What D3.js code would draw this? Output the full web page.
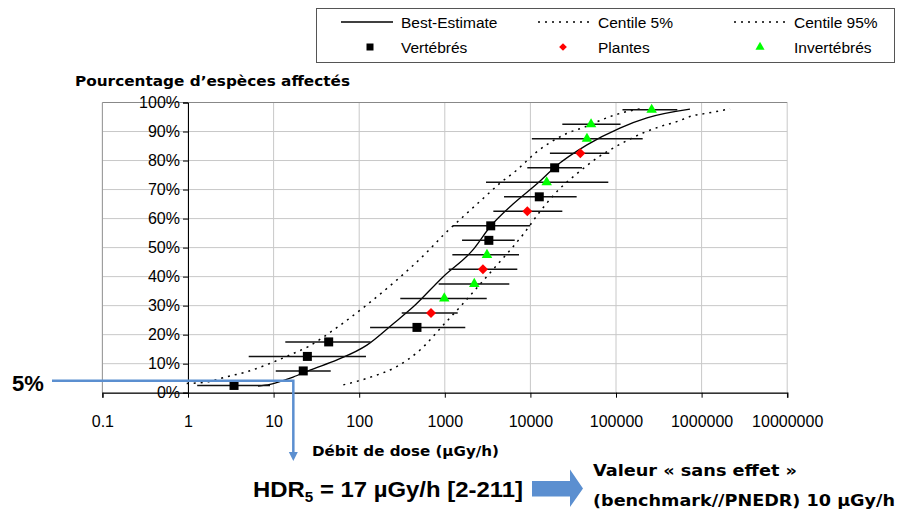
<!DOCTYPE html>
<html>
<head>
<meta charset="utf-8">
<script src="https://cdn.jsdelivr.net/npm/d3@7"></script>
<style>
  body { margin: 0; background: #fff; }
  svg { display: block; }
</style>
</head>
<body>
<div id="chart"></div>
<script>
// dimensions
const width = 901;
const height = 516;

// graduations
const xTicks = [0.1, 1, 10, 100, 1000, 10000, 100000, 1000000, 10000000];
const xTickLabels = ["0.1", "1", "10", "100", "1000", "10000", "100000", "1000000", "10000000"];
const yTicks = [0, 10, 20, 30, 40, 50, 60, 70, 80, 90, 100];

// espèces : [dose, pourcentage, borne basse, borne haute]
const vertebres = [
    [3.45, 2.5, 1.28, 9.08],
    [22.2, 7.5, 10.6, 46.5],
    [24.8, 12.5, 5.12, 120],
    [44, 17.5, 13.7, 136],
    [473, 22.5, 134, 1735],
    [3270, 52.5, 1590, 6560],
    [3440, 57.5, 1237, 9890],
    [12700, 67.5, 4920, 34700],
    [19200, 77.5, 9200, 40100]
];
const plantes = [
    [690, 27.5, 314, 1415],
    [2790, 42.5, 1110, 7030],
    [9200, 62.5, 3690, 23600],
    [38300, 82.5, 16900, 83500]
];
const invertebres = [
    [986, 32.5, 302, 3090],
    [2210, 37.5, 848, 5670],
    [3110, 47.5, 1225, 7360],
    [15500, 72.5, 3030, 81300],
    [45800, 87.5, 10400, 205000],
    [51100, 92.5, 23600, 113000],
    [261000, 97.5, 119000, 520000]
];

// courbes : [dose, pourcentage]
const bestEstimate = [
    [6.58, 2.3], [9.08, 2.9], [12.9, 4.2], [16.9, 5.4], [26.6, 7.8], [55.1, 11.3],
    [123, 16.4], [248, 23.7], [425, 29.5], [952, 39.9], [2130, 49.2], [3370, 57.1],
    [6270, 65.0], [12600, 72.6], [19400, 77.8], [45800, 85.4], [111000, 91.2],
    [230000, 94.7], [731000, 97.7]
];
const centile5 = [
    [0.966, 3.2], [1.58, 3.6], [2.83, 5.5], [4.85, 7.2], [9.08, 10.1], [15.5, 13.0],
    [25.4, 15.9], [54.6, 22.4], [122, 30.2], [274, 38.8], [637, 48.8], [960, 54.3],
    [1644, 60.7], [2818, 67.0], [4413, 72.2], [6918, 76.7], [11320, 82.5],
    [26550, 89.3], [43450, 91.6], [65000, 93.8], [92250, 95.5], [127400, 96.7],
    [190600, 97.8]
];
const centile95 = [
    [65.2, 2.7], [134, 5.3], [274, 9.0], [513, 14.7], [960, 23.3], [1644, 30.8],
    [3086, 40.0], [5780, 49.1], [8260, 54.6], [12940, 62.4], [22180, 70.4],
    [34750, 75.4], [59550, 80.8], [111400, 85.6], [206600, 89.5], [326600, 91.7],
    [512000, 93.4], [800000, 95.5], [1148000, 96.3], [2147000, 97.8]
];

const blue = "#5B8FD0";
const font = "'Liberation Sans', Arial, sans-serif";
const fontTitle = "'DejaVu Sans', Tahoma, sans-serif";

const svg = d3.select("#chart")
    .append("svg")
    .attr("width", width)
    .attr("height", height)
    .style("font-family", font);

// ÉCHELLES
const x = d3.scaleLog().domain([0.1, 10000000]).range([102.4, 787.2]);
const y = d3.scaleLinear().domain([0, 100]).range([392.7, 102.5]);

// grille
const grid = svg.append("g");
grid.selectAll(".gx")
    .data(xTicks)
    .join("line")
    .attr("x1", d => x(d)).attr("x2", d => x(d))
    .attr("y1", y(0)).attr("y2", y(100))
    .attr("stroke", "#c8c8c8")
    .attr("stroke-width", 1);
grid.selectAll(".gy")
    .data(yTicks)
    .join("line")
    .attr("x1", x(0.1)).attr("x2", x(10000000))
    .attr("y1", d => y(d)).attr("y2", d => y(d))
    .attr("stroke", "#c8c8c8")
    .attr("stroke-width", 1);
svg.append("line")
    .attr("x1", x(0.1)).attr("x2", x(10000000))
    .attr("y1", y(100)).attr("y2", y(100))
    .attr("stroke", "#888");
svg.append("line")
    .attr("x1", x(0.1)).attr("x2", x(0.1))
    .attr("y1", y(0)).attr("y2", y(100))
    .attr("stroke", "#999");

// axe X
const xAxis = svg.append("g")
    .attr("transform", `translate(0,${y(0)})`)
    .call(d3.axisBottom(x)
        .tickValues(xTicks)
        .tickFormat((d, i) => xTickLabels[i])
        .tickSizeOuter(0)
        .tickSize(5)
        .tickPadding(18));
xAxis.select(".domain").attr("stroke", "#333").attr("stroke-width", 1.5);
xAxis.selectAll("text").attr("font-size", 16).attr("font-family", font).attr("fill", "#000");

// axe Y (croise en x = 1)
const yAxis = svg.append("g")
    .attr("transform", `translate(${x(1)},0)`)
    .call(d3.axisLeft(y)
        .tickValues(yTicks)
        .tickFormat(d => d + "%")
        .tickSizeOuter(0)
        .tickSize(5)
        .tickPadding(3));
yAxis.select(".domain").attr("stroke", "#000");
yAxis.selectAll("text").attr("font-size", 16).attr("font-family", font).attr("fill", "#000");

// courbes
const line = d3.line()
    .x(d => x(d[0]))
    .y(d => y(d[1]))
    .curve(d3.curveMonotoneX);

svg.append("path")
    .attr("d", line(centile5))
    .attr("fill", "none")
    .attr("stroke", "#000")
    .attr("stroke-width", 1.5)
    .attr("stroke-dasharray", "2,5");
svg.append("path")
    .attr("d", line(centile95))
    .attr("fill", "none")
    .attr("stroke", "#000")
    .attr("stroke-width", 1.5)
    .attr("stroke-dasharray", "2,5");
svg.append("path")
    .attr("d", line(bestEstimate))
    .attr("fill", "none")
    .attr("stroke", "#000")
    .attr("stroke-width", 1.3);

// barres d'erreur
const allSpecies = vertebres.concat(plantes, invertebres);
svg.append("g")
    .selectAll("line")
    .data(allSpecies)
    .join("line")
    .attr("x1", d => x(d[2]))
    .attr("x2", d => x(d[3]))
    .attr("y1", d => y(d[1]))
    .attr("y2", d => y(d[1]))
    .attr("stroke", "#111")
    .attr("stroke-width", 1.5);

// symboles
const squareSym = d3.symbol().type(d3.symbolSquare).size(81);
const diamondSym = d3.symbol().type(d3.symbolSquare).size(50);
const triangleSym = d3.symbol().type(d3.symbolTriangle).size(48);

svg.append("g").selectAll("path")
    .data(vertebres)
    .join("path")
    .attr("d", squareSym)
    .attr("transform", d => `translate(${x(d[0])},${y(d[1])})`)
    .attr("fill", "#000");
svg.append("g").selectAll("path")
    .data(plantes)
    .join("path")
    .attr("d", diamondSym)
    .attr("transform", d => `translate(${x(d[0])},${y(d[1])}) rotate(45)`)
    .attr("fill", "#ff0000");
svg.append("g").selectAll("path")
    .data(invertebres)
    .join("path")
    .attr("d", triangleSym)
    .attr("transform", d => `translate(${x(d[0])},${y(d[1])})`)
    .attr("fill", "#00ff00");

// titres
svg.append("text")
    .attr("x", 75).attr("y", 86)
    .attr("font-family", fontTitle)
    .attr("font-weight", "bold")
    .attr("font-size", 14.5)
    .attr("textLength", 275)
    .attr("lengthAdjust", "spacingAndGlyphs")
    .text("Pourcentage d’espèces affectés");

svg.append("text")
    .attr("x", 312).attr("y", 456)
    .attr("font-family", fontTitle)
    .attr("font-weight", "bold")
    .attr("font-size", 13.5)
    .attr("textLength", 187)
    .attr("lengthAdjust", "spacingAndGlyphs")
    .text("Débit de dose (µGy/h)");

// annotation 5 %
svg.append("text")
    .attr("x", 12).attr("y", 391)
    .attr("font-weight", "bold")
    .attr("font-size", 22)
    .text("5%");
svg.append("path")
    .attr("d", `M52,${y(4.1)} H${x(17)} V453`)
    .attr("fill", "none")
    .attr("stroke", blue)
    .attr("stroke-width", 2.5);
svg.append("path")
    .attr("d", `M${x(17) - 4.5},452 L${x(17) + 4.5},452 L${x(17)},461 Z`)
    .attr("fill", blue);

// HDR5
const hdr = svg.append("text")
    .attr("x", 253).attr("y", 497)
    .attr("font-weight", "bold")
    .attr("font-size", 22)
    .attr("textLength", 270)
    .attr("lengthAdjust", "spacingAndGlyphs");
hdr.append("tspan").text("HDR");
hdr.append("tspan").attr("font-size", 14).attr("dy", 5).text("5");
hdr.append("tspan").attr("dy", -5).text(" = 17 µGy/h [2-211]");

// grosse flèche
svg.append("path")
    .attr("d", "M532,481 H570 V469.5 L583,488.5 L570,507 V496.5 H532 Z")
    .attr("fill", blue);

svg.append("text")
    .attr("x", 593).attr("y", 476)
    .attr("font-family", fontTitle)
    .attr("font-weight", "bold")
    .attr("font-size", 16)
    .attr("textLength", 204)
    .attr("lengthAdjust", "spacingAndGlyphs")
    .text("Valeur « sans effet »");
svg.append("text")
    .attr("x", 593).attr("y", 506)
    .attr("font-family", fontTitle)
    .attr("font-weight", "bold")
    .attr("font-size", 16)
    .attr("textLength", 302)
    .attr("lengthAdjust", "spacingAndGlyphs")
    .text("(benchmark//PNEDR) 10 µGy/h");

// LÉGENDE
const legend = svg.append("g");
legend.append("rect")
    .attr("x", 316.5).attr("y", 8.5)
    .attr("width", 578).attr("height", 54)
    .attr("fill", "#fff")
    .attr("stroke", "#555");

const legendLines = [
    { label: "Best-Estimate", x0: 341, dash: null },
    { label: "Centile 5%", x0: 538, dash: "2,5" },
    { label: "Centile 95%", x0: 734, dash: "2,5" }
];
legendLines.forEach(d => {
    legend.append("line")
        .attr("x1", d.x0).attr("x2", d.x0 + 52)
        .attr("y1", 22).attr("y2", 22)
        .attr("stroke", "#000")
        .attr("stroke-width", d.dash ? 1.5 : 1.3)
        .attr("stroke-dasharray", d.dash);
    legend.append("text")
        .attr("x", d.x0 + 60).attr("y", 27.5)
        .attr("font-size", 15.5)
        .text(d.label);
});

legend.append("path").attr("d", d3.symbol().type(d3.symbolSquare).size(49))
    .attr("transform", "translate(370,47)").attr("fill", "#000");
legend.append("path").attr("d", d3.symbol().type(d3.symbolSquare).size(30))
    .attr("transform", "translate(563,47) rotate(45)").attr("fill", "#ff0000");
legend.append("path").attr("d", d3.symbol().type(d3.symbolTriangle).size(36))
    .attr("transform", "translate(760,47)").attr("fill", "#00ff00");
[["Vertébrés", 401], ["Plantes", 598], ["Invertébrés", 794]].forEach(([t, lx]) => {
    legend.append("text")
        .attr("x", lx).attr("y", 52.5)
        .attr("font-size", 15.5)
        .text(t);
});
</script>
</body>
</html>
